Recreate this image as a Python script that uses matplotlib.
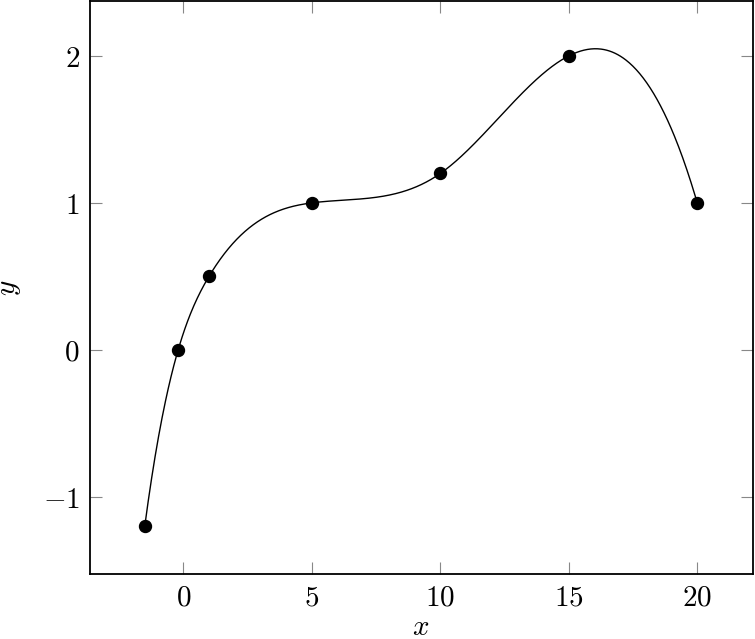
import numpy as np
import matplotlib
matplotlib.use('Agg')
import matplotlib.pyplot as plt

plt.rcParams['mathtext.fontset'] = 'cm'
plt.rcParams['font.family'] = 'serif'
plt.rcParams['font.serif'] = ['DejaVu Serif']

x_pts = [-1.5, -0.2, 1, 5, 10, 15, 20]
y_pts = [-1.2, 0, 0.5, 1, 1.2, 2, 1]
x_ticks = [0, 5, 10, 15, 20]
y_ticks = [-1, 0, 1, 2]


def spline_not_a_knot(x, y, xs):
    # piecewise cubic a + b*t + c*t^2 + d*t^3, t = x - x_i
    x = np.asarray(x, float)
    y = np.asarray(y, float)
    n = len(x) - 1
    A = np.zeros((4 * n, 4 * n))
    rhs = np.zeros(4 * n)
    r = 0
    for i in range(n):
        h = x[i + 1] - x[i]
        A[r, 4 * i] = 1
        rhs[r] = y[i]
        r += 1
        A[r, 4 * i:4 * i + 4] = [1, h, h**2, h**3]
        rhs[r] = y[i + 1]
        r += 1
    for i in range(n - 1):
        h = x[i + 1] - x[i]
        A[r, 4 * i:4 * i + 4] = [0, 1, 2 * h, 3 * h**2]
        A[r, 4 * (i + 1) + 1] = -1
        r += 1
        A[r, 4 * i:4 * i + 4] = [0, 0, 2, 6 * h]
        A[r, 4 * (i + 1) + 2] = -2
        r += 1
    # not-a-knot ends
    A[r, 3] = 1
    A[r, 7] = -1
    r += 1
    A[r, 4 * (n - 2) + 3] = 1
    A[r, 4 * (n - 1) + 3] = -1
    coef = np.linalg.solve(A, rhs).reshape(n, 4)
    idx = np.clip(np.searchsorted(x, xs) - 1, 0, n - 1)
    t = xs - x[idx]
    c = coef[idx]
    return c[:, 0] + c[:, 1] * t + c[:, 2] * t**2 + c[:, 3] * t**3


xs = np.linspace(x_pts[0], x_pts[-1], 800)
ys = spline_not_a_knot(x_pts, y_pts, xs)

fig = plt.figure(figsize=(7.55, 6.39), dpi=100)
ax = fig.add_axes([89.5 / 755, 65 / 639, 663 / 755, 573 / 639])
ax.plot(xs, ys, color='black', lw=1)
ax.plot(x_pts, y_pts, 'o', color='black', ms=8.6)

# pgfplots-style 10% enlargement of the data range
xr = xs.max() - xs.min()
yr = ys.max() - ys.min()
ax.set_xlim(xs.min() - 0.1 * xr, xs.max() + 0.1 * xr)
ax.set_ylim(ys.min() - 0.1 * yr, ys.max() + 0.1 * yr)

ax.set_xticks(x_ticks)
ax.set_yticks(y_ticks)
ax.set_xticklabels([f'${v}$' for v in x_ticks])
ax.set_yticklabels([f'${v}$' for v in y_ticks])
ax.tick_params(direction='in', top=True, right=True, length=8.5, width=0.8,
               color='#888888', labelsize=21, pad=7)
for s in ax.spines.values():
    s.set_linewidth(1.3)
ax.set_xlabel('$x$', fontsize=21)
ax.set_ylabel('$y$', fontsize=21)
ax.xaxis.set_label_coords(0.5, -0.068)
ax.yaxis.set_label_coords(-0.1, 0.5)

fig.savefig('out.png', dpi=100)
